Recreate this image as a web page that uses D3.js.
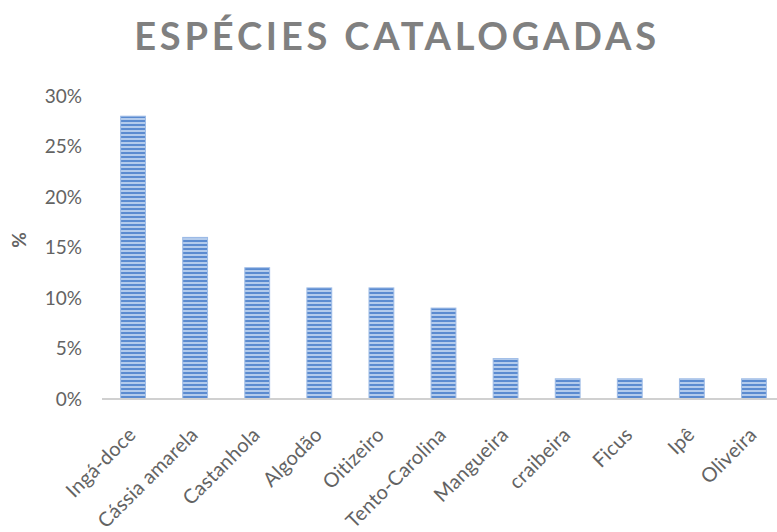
<!DOCTYPE html>
<html>
<head>
<meta charset="utf-8">
<script src="https://cdn.jsdelivr.net/npm/d3@7"></script>
<style>
  body { margin: 0; background: #fff; }
  svg { display: block; }
</style>
</head>
<body>
<script>
// Species names and their share of the catalogue
const species = ["Ingá-doce", "Cássia amarela", "Castanhola", "Algodão", "Oitizeiro",
  "Tento-Carolina", "Mangueira", "craibeira", "Ficus", "Ipê", "Oliveira"];
const shares = [0.28, 0.16, 0.13, 0.11, 0.11, 0.09, 0.04, 0.02, 0.02, 0.02, 0.02];
const yTicks = [0, 0.05, 0.10, 0.15, 0.20, 0.25, 0.30];

const w = 777;
const h = 532;
const font = "Lato, 'Open Sans', sans-serif";
const labelColor = "#636363";

const svg = d3.select("body").append("svg").attr("width", w).attr("height", h);

// Striped fill for the bars
const defs = svg.append("defs");
const pat = defs.append("pattern")
  .attr("id", "stripes")
  .attr("patternUnits", "userSpaceOnUse")
  .attr("width", 8)
  .attr("height", 4);
pat.append("rect").attr("width", 8).attr("height", 4).attr("fill", "#b3cbec");
pat.append("rect").attr("width", 8).attr("height", 2).attr("fill", "#5b8bd0");

const xScale = d3.scaleBand()
  .domain(species)
  .range([102, 785])
  .paddingInner(0.6)
  .paddingOuter(0.3);

const yScale = d3.scaleLinear()
  .domain([0, 0.30])
  .range([399, 96]);

// Title
svg.append("text")
  .attr("x", 397)
  .attr("y", 50)
  .attr("text-anchor", "middle")
  .attr("font-family", font)
  .attr("font-weight", "bold")
  .attr("font-size", 38)
  .attr("letter-spacing", 3.8)
  .attr("fill", "#808080")
  .text("ESPÉCIES CATALOGADAS");

// Y axis (labels only)
const yAxis = d3.axisLeft(yScale)
  .tickValues(yTicks)
  .tickFormat(d3.format(".0%"))
  .tickSize(0)
  .tickPadding(0);

svg.append("g")
  .attr("transform", "translate(82,0)")
  .call(yAxis)
  .call(g => g.select(".domain").remove())
  .selectAll("text")
  .attr("font-family", font)
  .attr("font-size", 19)
  .attr("fill", labelColor);

// Y axis title
svg.append("text")
  .attr("transform", "translate(26,240) rotate(-90)")
  .attr("text-anchor", "middle")
  .attr("font-family", font)
  .attr("font-weight", "bold")
  .attr("font-size", 19)
  .attr("fill", labelColor)
  .text("%");

// Bars
svg.selectAll("rect.bar")
  .data(species)
  .enter()
  .append("rect")
  .attr("class", "bar")
  .attr("x", (d) => xScale(d))
  .attr("y", (d, i) => yScale(shares[i]))
  .attr("width", xScale.bandwidth())
  .attr("height", (d, i) => yScale(0) - yScale(shares[i]))
  .attr("fill", "url(#stripes)")
  .attr("stroke", "#9dbbe6")
  .attr("stroke-width", 1);

// X axis: baseline and rotated category labels
const xAxis = d3.axisBottom(xScale).tickSize(0).tickPadding(0);

const gx = svg.append("g")
  .attr("transform", `translate(0,${yScale(0)})`)
  .call(xAxis);

gx.select(".domain")
  .attr("d", "M102,0H785")
  .attr("stroke", "#d0d0d0")
  .attr("stroke-width", 2);

gx.selectAll("text")
  .attr("font-family", font)
  .attr("font-size", 20)
  .attr("letter-spacing", 0.2)
  .attr("fill", labelColor)
  .attr("text-anchor", "end")
  .attr("dy", 0)
  .attr("transform", "translate(4,37) rotate(-45)");
</script>
</body>
</html>
